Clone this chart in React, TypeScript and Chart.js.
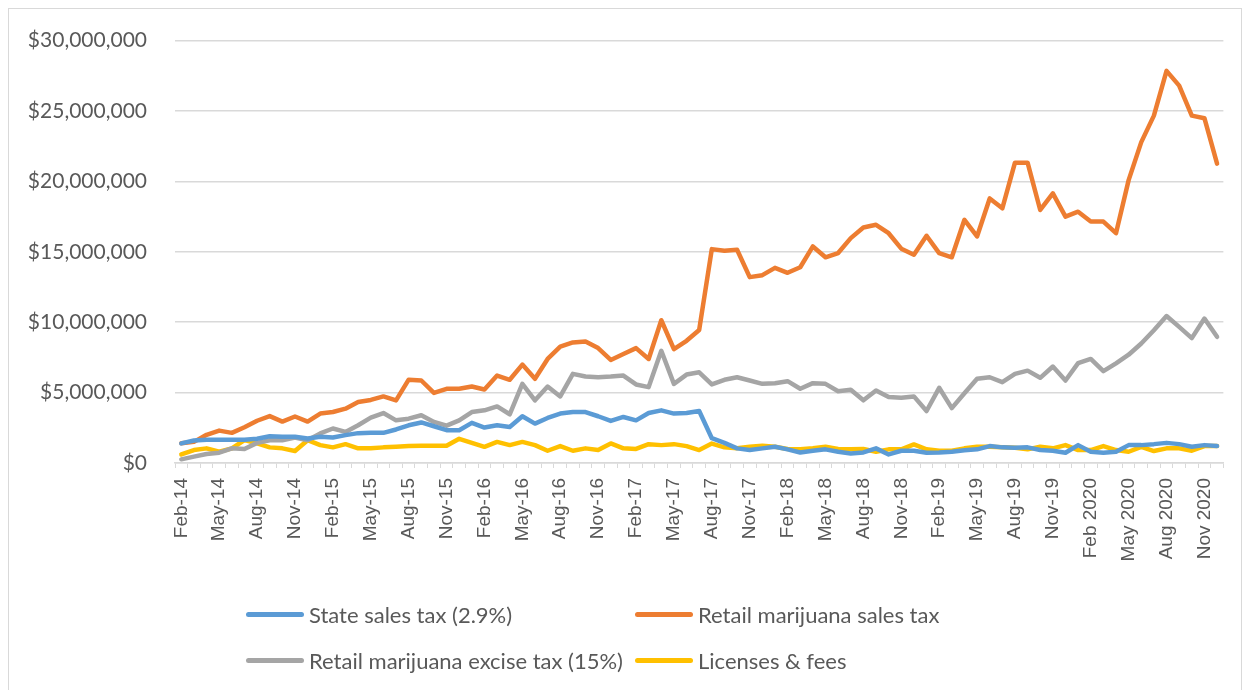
import React, { useEffect, useRef } from "react";
import { Chart, registerables } from "chart.js";

Chart.register(...registerables);

const CATEGORIES = [
  "Feb-14", "Mar-14", "Apr-14", "May-14", "Jun-14", "Jul-14", "Aug-14", "Sep-14", "Oct-14", "Nov-14", "Dec-14",
  "Jan-15", "Feb-15", "Mar-15", "Apr-15", "May-15", "Jun-15", "Jul-15", "Aug-15", "Sep-15", "Oct-15", "Nov-15", "Dec-15",
  "Jan-16", "Feb-16", "Mar-16", "Apr-16", "May-16", "Jun-16", "Jul-16", "Aug-16", "Sep-16", "Oct-16", "Nov-16", "Dec-16",
  "Jan-17", "Feb-17", "Mar-17", "Apr-17", "May-17", "Jun-17", "Jul-17", "Aug-17", "Sep-17", "Oct-17", "Nov-17", "Dec-17",
  "Jan-18", "Feb-18", "Mar-18", "Apr-18", "May-18", "Jun-18", "Jul-18", "Aug-18", "Sep-18", "Oct-18", "Nov-18", "Dec-18",
  "Jan-19", "Feb-19", "Mar-19", "Apr-19", "May-19", "Jun-19", "Jul-19", "Aug-19", "Sep-19", "Oct-19", "Nov-19", "Dec-19",
  "Jan 2020", "Feb 2020", "Mar 2020", "Apr 2020", "May 2020", "Jun 2020", "Jul 2020", "Aug 2020", "Sep 2020", "Oct 2020", "Nov 2020", "Dec 2020",
];

// Values in millions of dollars
const STATE_SALES_TAX = [
  1.39, 1.60, 1.65, 1.65, 1.65, 1.65, 1.72, 1.90, 1.86, 1.86, 1.74,
  1.86, 1.81, 1.98, 2.12, 2.14, 2.14, 2.38, 2.68, 2.88, 2.61, 2.33, 2.33,
  2.85, 2.52, 2.68, 2.56, 3.32, 2.80, 3.20, 3.51, 3.62, 3.62, 3.32, 2.99,
  3.27, 3.03, 3.55, 3.74, 3.51, 3.55, 3.69, 1.76, 1.43, 1.04, 0.92, 1.04,
  1.15, 0.97, 0.75, 0.87, 0.97, 0.80, 0.68, 0.75, 1.04, 0.61, 0.87, 0.87,
  0.73, 0.75, 0.80, 0.90, 0.97, 1.20, 1.11, 1.08, 1.11, 0.92, 0.87, 0.73,
  1.27, 0.80, 0.73, 0.80, 1.27, 1.27, 1.34, 1.43, 1.34, 1.15, 1.27, 1.20,
];

const RETAIL_SALES_TAX = [
  1.40, 1.50, 2.00, 2.30, 2.14, 2.54, 3.00, 3.33, 2.94, 3.30, 2.94,
  3.51, 3.62, 3.86, 4.33, 4.48, 4.73, 4.45, 5.92, 5.86, 4.98, 5.27, 5.27,
  5.43, 5.22, 6.21, 5.91, 6.99, 5.98, 7.39, 8.26, 8.56, 8.63, 8.16, 7.32,
  7.74, 8.16, 7.39, 10.14, 8.09, 8.68, 9.45, 15.19, 15.08, 15.15, 13.20, 13.34,
  13.86, 13.51, 13.90, 15.38, 14.61, 14.91, 15.97, 16.73, 16.92, 16.32, 15.22, 14.79,
  16.14, 14.91, 14.61, 17.27, 16.09, 18.79, 18.09, 21.33, 21.33, 17.97, 19.15, 17.50,
  17.85, 17.15, 17.15, 16.32, 20.09, 22.79, 24.67, 27.85, 26.80, 24.67, 24.49, 21.26,
];

const RETAIL_EXCISE_TAX = [
  0.26, 0.45, 0.64, 0.73, 1.04, 1.00, 1.43, 1.62, 1.62, 1.81, 1.62,
  2.10, 2.45, 2.21, 2.68, 3.22, 3.55, 3.03, 3.15, 3.39, 2.92, 2.65, 3.03,
  3.62, 3.74, 4.02, 3.46, 5.62, 4.45, 5.43, 4.73, 6.33, 6.14, 6.09, 6.14,
  6.21, 5.58, 5.39, 7.97, 5.62, 6.28, 6.44, 5.58, 5.91, 6.09, 5.86, 5.62,
  5.67, 5.81, 5.27, 5.67, 5.62, 5.10, 5.20, 4.45, 5.15, 4.68, 4.64, 4.73,
  3.69, 5.34, 3.90, 4.95, 5.98, 6.09, 5.74, 6.33, 6.56, 6.05, 6.85, 5.86,
  7.09, 7.39, 6.52, 7.08, 7.69, 8.49, 9.43, 10.44, 9.67, 8.87, 10.26, 8.96,
];

const LICENSES_FEES = [
  0.61, 0.92, 1.04, 0.80, 1.04, 1.62, 1.39, 1.11, 1.04, 0.85, 1.62,
  1.27, 1.11, 1.34, 1.04, 1.04, 1.11, 1.15, 1.20, 1.22, 1.22, 1.22, 1.72,
  1.43, 1.15, 1.50, 1.27, 1.50, 1.27, 0.87, 1.20, 0.87, 1.04, 0.92, 1.39,
  1.04, 1.00, 1.34, 1.27, 1.34, 1.20, 0.92, 1.38, 1.11, 1.04, 1.15, 1.22,
  1.15, 0.99, 0.97, 1.04, 1.15, 0.99, 0.97, 0.99, 0.80, 0.97, 0.97, 1.32,
  0.97, 0.87, 0.87, 1.04, 1.15, 1.15, 1.11, 1.08, 0.97, 1.15, 1.04, 1.27,
  0.92, 0.92, 1.20, 0.92, 0.80, 1.15, 0.85, 1.04, 1.04, 0.87, 1.20, 1.20,
];

const SERIES_NAMES = [
  "State sales tax (2.9%)",
  "Retail marijuana sales tax",
  "Retail marijuana excise tax (15%)",
  "Licenses & fees",
];
const SERIES_COLORS = ["#5B9BD5", "#ED7D31", "#A5A5A5", "#FFC000"];

const Y_MIN = 0;
const Y_MAX = 30000000;
const Y_STEP = 5000000;

const FONT = "Lato, 'Open Sans', sans-serif";
const TEXT_COLOR = "#595959";
const GRID_COLOR = "#D9D9D9";

function formatDollars(v: number): string {
  return "$" + Math.round(v).toLocaleString("en-US");
}

export default function App() {
  const canvasRef = useRef<HTMLCanvasElement | null>(null);

  useEffect(() => {
    if (!canvasRef.current) return;
    const seriesValues = [STATE_SALES_TAX, RETAIL_SALES_TAX, RETAIL_EXCISE_TAX, LICENSES_FEES];
    const chart = new Chart(canvasRef.current, {
      type: "line",
      data: {
        labels: CATEGORIES,
        datasets: seriesValues.map((vals, i) => ({
          label: SERIES_NAMES[i],
          data: vals.map((v) => v * 1000000),
          borderColor: SERIES_COLORS[i],
          backgroundColor: SERIES_COLORS[i],
          borderWidth: 4.5,
          pointRadius: 0,
          pointHoverRadius: 0,
          tension: 0,
          fill: false,
          borderCapStyle: "round" as const,
          borderJoinStyle: "round" as const,
        })),
      },
      options: {
        animation: false,
        responsive: true,
        maintainAspectRatio: false,
        layout: { padding: { left: 0, right: 24, top: 38, bottom: 0 } },
        plugins: {
          legend: { display: false },
          tooltip: { enabled: false },
          title: { display: false },
        },
        scales: {
          x: {
            type: "category",
            offset: true,
            grid: {
              display: true,
              offset: true,
              drawOnChartArea: false,
              drawTicks: true,
              tickLength: 5,
              color: GRID_COLOR,
              lineWidth: 1,
            },
            border: { display: true, color: GRID_COLOR, width: 1.5 },
            ticks: {
              autoSkip: false,
              minRotation: 90,
              maxRotation: 90,
              padding: 10,
              color: TEXT_COLOR,
              font: { family: "'Liberation Sans', Arial, sans-serif", size: 19 },
              callback: (_v: any, idx: number) => (idx % 3 === 0 ? CATEGORIES[idx] : ""),
            },
            afterFit: (scale: any) => {
              scale.height = 117;
            },
          },
          y: {
            min: Y_MIN,
            max: Y_MAX,
            grid: { color: GRID_COLOR, lineWidth: 1.5, drawTicks: false },
            border: { display: false },
            ticks: {
              stepSize: Y_STEP,
              padding: 28,
              color: TEXT_COLOR,
              font: { family: FONT, size: 21 },
              callback: (v: any) => formatDollars(Number(v)),
            },
            afterFit: (scale: any) => {
              scale.width = 175;
            },
          },
        },
      },
    });
    return () => chart.destroy();
  }, []);

  const legendRow = (a: number, b: number, top: number) => (
    <div style={{ position: "fixed", left: 0, top, height: 30, width: 1250 }}>
      {[a, b].map((idx, k) => (
        <div
          key={idx}
          style={{
            position: "absolute",
            left: k === 0 ? 246 : 635,
            top: 0,
            height: 30,
            display: "flex",
            alignItems: "center",
            whiteSpace: "nowrap",
          }}
        >
          <span
            style={{
              display: "inline-block",
              width: 58,
              height: 5,
              borderRadius: 3,
              background: SERIES_COLORS[idx],
              marginRight: 5,
            }}
          />
          <span style={{ fontFamily: FONT, fontSize: 22, color: TEXT_COLOR }}>{SERIES_NAMES[idx]}</span>
        </div>
      ))}
    </div>
  );

  return (
    <div>
      <div
        style={{
          position: "fixed",
          left: 8,
          top: 8,
          width: 1234,
          height: 720,
          border: `1px solid ${GRID_COLOR}`,
          boxSizing: "border-box",
        }}
      />
      <div style={{ position: "fixed", left: 0, top: 0, width: 1250, height: 580 }}>
        <canvas ref={canvasRef} />
      </div>
      {legendRow(0, 1, 599)}
      {legendRow(2, 3, 645)}
    </div>
  );
}
